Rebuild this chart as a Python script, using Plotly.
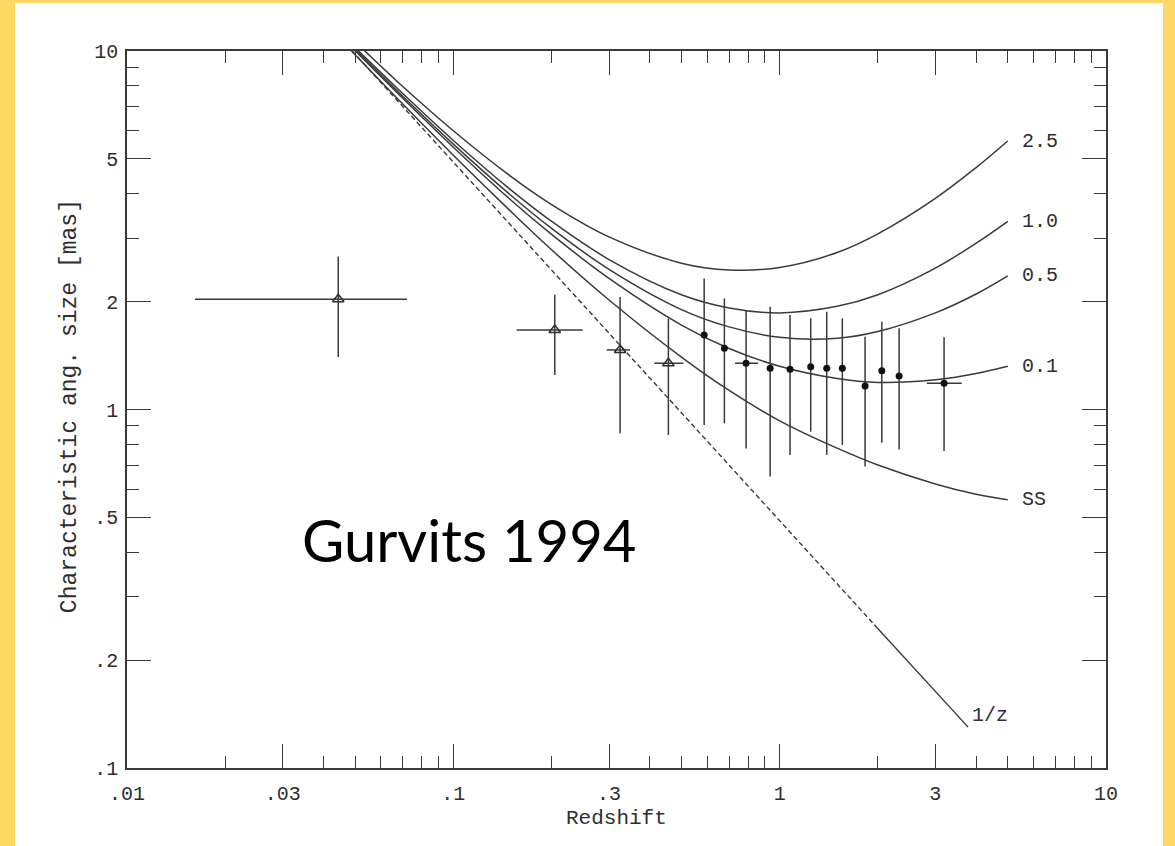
import plotly.graph_objects as go
import numpy as np

# ---------------- data ----------------
z_grid = [0.048, 0.07, 0.1, 0.15, 0.2, 0.3, 0.5, 0.7, 1.0, 1.5, 2.0, 3.0, 4.0, 5.0]
curve_q25 = [11.0, 7.96, 5.99, 4.47, 3.73, 3.03, 2.56, 2.45, 2.49, 2.74, 3.09, 3.88, 4.73, 5.61]
curve_q10 = [10.6, 7.61, 5.63, 4.10, 3.35, 2.62, 2.09, 1.92, 1.86, 1.94, 2.09, 2.48, 2.91, 3.35]
curve_q05 = [10.5, 7.48, 5.50, 3.96, 3.20, 2.46, 1.90, 1.70, 1.59, 1.58, 1.65, 1.86, 2.10, 2.36]
curve_q01 = [10.4, 7.38, 5.39, 3.84, 3.08, 2.32, 1.72, 1.48, 1.32, 1.22, 1.19, 1.21, 1.26, 1.32]
curve_ss = [10.15, 7.11, 5.12, 3.57, 2.79, 2.02, 1.40, 1.13, 0.93, 0.78, 0.70, 0.62, 0.58, 0.56]
curve_labels = ["2.5", "1.0", "0.5", "0.1", "SS"]

invz_dash_z = [0.049, 1.95]
invz_dash_y = [10.0, 0.251]
invz_solid_z = [1.95, 3.78]
invz_solid_y = [0.251, 0.130]

tri_z = [0.0444, 0.2046, 0.3243, 0.456]
tri_y = [2.03, 1.666, 1.466, 1.346]
tri_y_hi = [2.67, 2.09, 2.06, 1.796]
tri_y_lo = [1.40, 1.248, 0.858, 0.849]
tri_z_lo = [0.01616, 0.1564, 0.2952, 0.4130]
tri_z_hi = [0.0721, 0.2492, 0.3479, 0.5069]

circ_z = [0.587, 0.677, 0.789, 0.935, 1.076, 1.245, 1.394, 1.556, 1.827, 2.056, 2.323, 3.19]
circ_y = [1.613, 1.481, 1.346, 1.303, 1.295, 1.316, 1.303, 1.303, 1.163, 1.283, 1.240, 1.183]
circ_y_hi = [2.32, 2.04, 1.894, 1.935, 1.835, 1.796, 1.874, 1.796, 1.596, 1.758, 1.685, 1.590]
circ_y_lo = [0.905, 0.915, 0.779, 0.650, 0.747, 0.867, 0.747, 0.796, 0.693, 0.808, 0.774, 0.766]
circ_z_lo = [0.587, 0.677, 0.730, 0.935, 1.076, 1.245, 1.394, 1.556, 1.827, 2.056, 2.323, 2.824]
circ_z_hi = [0.587, 0.677, 0.859, 0.935, 1.076, 1.245, 1.394, 1.556, 1.827, 2.056, 2.323, 3.614]

x_tickvals = [0.01, 0.03, 0.1, 0.3, 1, 3, 10]
x_ticktext = [".01", ".03", ".1", ".3", "1", "3", "10"]
y_tickvals = [0.1, 0.2, 0.5, 1, 2, 5, 10]
y_ticktext = [".1", ".2", ".5", "1", "2", "5", "10"]
x_minor = [m * d for d in (0.01, 0.1, 1) for m in (2, 4, 5, 6, 7, 8, 9)]
y_minor = [m * d for d in (0.1, 1) for m in (3, 4, 6, 7, 8, 9)]

# ---------------- style ----------------
INK = "#2e2e2e"
LINE = "#3a3a3a"
YELLOW = "#FDD865"
MONO = "Liberation Mono, Courier New, monospace"

fig = go.Figure()

for vals in [curve_q25, curve_q10, curve_q05, curve_q01, curve_ss]:
    fig.add_trace(go.Scatter(x=z_grid, y=vals, mode="lines",
                             line=dict(color=LINE, width=1.5, shape="spline", smoothing=1.0),
                             showlegend=False, hoverinfo="skip"))

fig.add_trace(go.Scatter(x=invz_dash_z, y=invz_dash_y, mode="lines",
                         line=dict(color=LINE, width=1.4, dash="5px,3px"),
                         showlegend=False, hoverinfo="skip"))
fig.add_trace(go.Scatter(x=invz_solid_z, y=invz_solid_y, mode="lines",
                         line=dict(color=LINE, width=1.4),
                         showlegend=False, hoverinfo="skip"))

fig.add_trace(go.Scatter(
    x=tri_z, y=tri_y, mode="markers",
    marker=dict(symbol="triangle-up-open", size=10, color=INK, line=dict(width=1.5, color=INK)),
    error_y=dict(type="data", symmetric=False,
                 array=[h - v for h, v in zip(tri_y_hi, tri_y)],
                 arrayminus=[v - l for l, v in zip(tri_y_lo, tri_y)],
                 width=0, thickness=1.5, color=LINE),
    error_x=dict(type="data", symmetric=False,
                 array=[h - v for h, v in zip(tri_z_hi, tri_z)],
                 arrayminus=[v - l for l, v in zip(tri_z_lo, tri_z)],
                 width=0, thickness=1.5, color=LINE),
    showlegend=False))

fig.add_trace(go.Scatter(
    x=circ_z, y=circ_y, mode="markers",
    marker=dict(symbol="circle", size=7, color="#111111"),
    error_y=dict(type="data", symmetric=False,
                 array=[h - v for h, v in zip(circ_y_hi, circ_y)],
                 arrayminus=[v - l for l, v in zip(circ_y_lo, circ_y)],
                 width=0, thickness=1.5, color=LINE),
    error_x=dict(type="data", symmetric=False,
                 array=[h - v for h, v in zip(circ_z_hi, circ_z)],
                 arrayminus=[v - l for l, v in zip(circ_z_lo, circ_z)],
                 width=0, thickness=1.5, color=LINE),
    showlegend=False))

annotations = []
for vals, lab in zip([curve_q25, curve_q10, curve_q05, curve_q01, curve_ss], curve_labels):
    annotations.append(dict(x=np.log10(z_grid[-1]), y=np.log10(vals[-1]), xref="x", yref="y",
                            text=lab, showarrow=False, xanchor="left", yanchor="middle",
                            xshift=12, font=dict(family=MONO, size=20, color=INK)))
annotations.append(dict(x=np.log10(invz_solid_z[-1]), y=np.log10(invz_solid_y[-1]), xref="x", yref="y",
                        text="1/z", showarrow=False, xanchor="left", yanchor="middle",
                        xshift=2, yshift=12, font=dict(family=MONO, size=20, color=INK)))
annotations.append(dict(x=0.5005, y=-0.07, xref="paper", yref="paper", text="Redshift",
                        showarrow=False, xanchor="center", yanchor="middle",
                        font=dict(family=MONO, size=21, color=INK)))
annotations.append(dict(x=-0.058, y=0.505, xref="paper", yref="paper",
                        text="Characteristic ang. size [mas]", textangle=-90,
                        showarrow=False, xanchor="center", yanchor="middle",
                        font=dict(family=MONO, size=23, color=INK)))
annotations.append(dict(x=0.1767, y=0.318, xref="paper", yref="paper", text="Gurvits 1994",
                        showarrow=False, xanchor="left", yanchor="middle",
                        font=dict(family="Lato, Open Sans, sans-serif", size=58, color="#000000")))

axis_common = dict(type="log", showgrid=False, zeroline=False, showline=True,
                   linecolor=LINE, linewidth=1.5, mirror="allticks",
                   ticks="inside", ticklen=24, tickwidth=1.3, tickcolor=LINE,
                   tickfont=dict(family=MONO, size=20, color=INK))

fig.update_xaxes(**axis_common, range=[-2, 1], tickmode="array",
                 tickvals=x_tickvals, ticktext=x_ticktext, ticklabelstandoff=6,
                 minor=dict(tickmode="array", tickvals=x_minor, ticks="inside",
                            ticklen=12, tickwidth=1.2, tickcolor=LINE))
fig.update_yaxes(**axis_common, range=[-1, 1], tickmode="array",
                 tickvals=y_tickvals, ticktext=y_ticktext, ticklabelstandoff=3,
                 minor=dict(tickmode="array", tickvals=y_minor, ticks="inside",
                            ticklen=12, tickwidth=1.2, tickcolor=LINE))

fig.update_layout(
    width=1175, height=846, autosize=False,
    margin=dict(l=127, r=69, t=51, b=78),
    paper_bgcolor=YELLOW, plot_bgcolor="white",
    annotations=annotations,
    shapes=[dict(type="rect", xref="paper", yref="paper",
                 x0=-0.1144, x1=1.0582, y0=-0.1088, y1=1.0669,
                 fillcolor="white", line=dict(width=0), layer="below")],
)

fig.write_html("out.html")
